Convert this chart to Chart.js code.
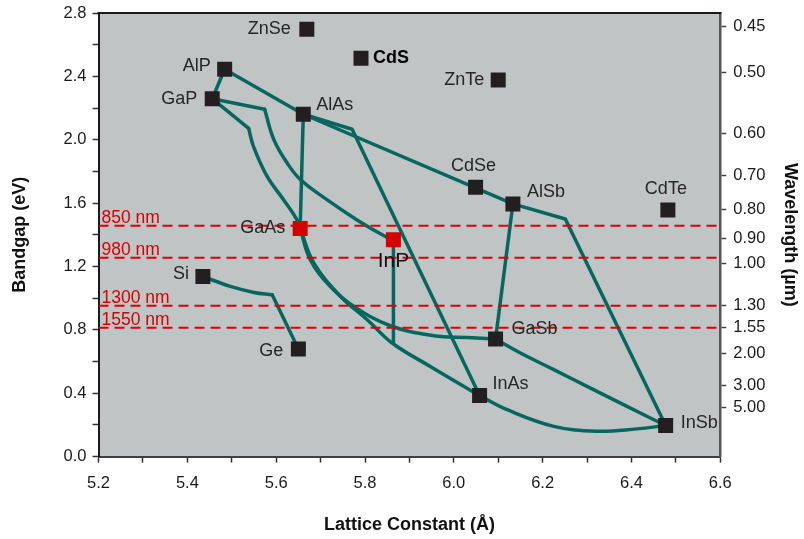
<!DOCTYPE html>
<html lang="en">
<head>
<meta charset="utf-8">
<title>Bandgap vs Lattice Constant</title>
<script src="https://cdn.jsdelivr.net/npm/chart.js@4.4.1/dist/chart.umd.min.js"></script>
<style>
    html, body { margin: 0; padding: 0; background: #ffffff; }
    #wrap { width: 804px; height: 539px; }
</style>
</head>
<body>
<div id="wrap"><canvas id="bandgap-chart" width="804" height="539"></canvas></div>
<script>
// Composés binaires : constante de maille (Å) et bande interdite (eV)
const compounds = ['ZnSe', 'CdS', 'AlP', 'GaP', 'AlAs', 'GaAs', 'InP', 'Si', 'Ge', 'ZnTe', 'CdSe', 'AlSb', 'CdTe', 'GaSb', 'InAs', 'InSb'];
const latticeConstants = [5.669, 5.791, 5.484, 5.456, 5.661, 5.654, 5.864, 5.435, 5.650, 6.100, 6.049, 6.133, 6.482, 6.094, 6.058, 6.477];
const bandgaps = [2.697, 2.514, 2.445, 2.259, 2.161, 1.440, 1.368, 1.137, 0.679, 2.377, 1.700, 1.595, 1.557, 0.742, 0.385, 0.196];
const highlighted = ['GaAs', 'InP'];

// Longueurs d'onde de référence (lignes rouges)
const referenceLabels = ['850 nm', '980 nm', '1300 nm', '1550 nm'];
const referenceGaps = [1.457, 1.255, 0.952, 0.813];

// Axe de droite : longueur d'onde (µm) placée sur l'échelle en eV
const wavelengthLabels = ['0.45', '0.50', '0.60', '0.70', '0.80', '0.90', '1.00', '1.30', '1.55', '2.00', '3.00', '5.00'];
const wavelengthGaps = [2.717, 2.423, 2.040, 1.772, 1.557, 1.379, 1.221, 0.952, 0.818, 0.649, 0.448, 0.313];

// Segments droits des alliages ternaires
const lineAlPGaP = [[5.484, 2.445], [5.456, 2.259]];
const lineAlPAlAs = [[5.484, 2.445], [5.661, 2.161]];
const lineAlAsAlSb = [[5.661, 2.161], [6.133, 1.595]];
const lineAlSbInSb = [[6.133, 1.595], [6.251, 1.500], [6.477, 0.196]];
const lineAlAsInAs = [[5.661, 2.161], [5.771, 2.066], [6.058, 0.385]];
const lineAlAsGaAs = [[5.661, 2.161], [5.654, 1.440]];
const lineAlSbGaSb = [[6.133, 1.595], [6.094, 0.742]];
const lineGaPKinkA = [[5.456, 2.259], [5.538, 2.072]];
const lineGaPKinkB = [[5.456, 2.259], [5.574, 2.192]];
const lineInPGaInAs = [[5.864, 1.368], [5.864, 0.717]];
const lineSiGeKink = [[5.591, 1.021], [5.650, 0.679]];

// Courbes (avec courbure)
const curveGaPGaAs = [[5.538, 2.072], [5.549, 1.957], [5.580, 1.767], [5.617, 1.620], [5.647, 1.494], [5.654, 1.440]];
const curveGaPInP = [[5.574, 2.192], [5.595, 1.999], [5.625, 1.852], [5.655, 1.747], [5.715, 1.620], [5.782, 1.494], [5.846, 1.389], [5.864, 1.368]];
const curveGaAsGaSb = [[5.654, 1.440], [5.677, 1.242], [5.722, 1.074], [5.775, 0.948], [5.857, 0.826], [5.955, 0.763], [6.030, 0.752], [6.094, 0.742]];
const curveGaAsInAs = [[5.654, 1.440], [5.685, 1.221], [5.745, 1.011], [5.805, 0.864], [5.861, 0.717], [5.947, 0.569], [6.058, 0.385]];
const curveInAsInSb = [[6.058, 0.385], [6.120, 0.296], [6.225, 0.191], [6.322, 0.160], [6.412, 0.175], [6.477, 0.196]];
const curveGaSbInSb = [[6.094, 0.742], [6.150, 0.654], [6.225, 0.549], [6.300, 0.443], [6.390, 0.317], [6.477, 0.196]];
const curveSiGe = [[5.435, 1.137], [5.497, 1.074], [5.550, 1.036], [5.591, 1.021]];

const straightLines = [lineAlPGaP, lineAlPAlAs, lineAlAsAlSb, lineAlSbInSb, lineAlAsInAs, lineAlAsGaAs,
    lineAlSbGaSb, lineGaPKinkA, lineGaPKinkB, lineInPGaInAs, lineSiGeKink];
const smoothCurves = [curveGaPGaAs, curveGaPInP, curveGaAsGaSb, curveGaAsInAs, curveInAsInSb, curveGaSbInSb, curveSiGe];

// Placement des étiquettes : [dx, dy, alignement]
const labelPlacement = {
    ZnSe: [-16, 0, 'right'], CdS: [12, 0, 'left'], AlP: [-14, -3, 'right'], GaP: [-15, 0, 'right'],
    AlAs: [13, -9, 'left'], GaAs: [-15, 0, 'right'], InP: [0, 21, 'center'], Si: [-14, -2, 'right'],
    Ge: [-15, 2, 'right'], ZnTe: [-14, 0, 'right'], CdSe: [-2, -21, 'center'], AlSb: [14, -12, 'left'],
    CdTe: [-2, -21, 'center'], GaSb: [16, -10, 'left'], InAs: [13, -12, 'left'], InSb: [15, -3, 'left']
};

const TEAL = '#06675f';
const RED = '#d60000';
const FONT = '"Liberation Sans", Arial, Helvetica, sans-serif';

document.addEventListener('DOMContentLoaded', function() {
    initBandgapChart();
});

function toPoints(pairs) {
    return pairs.map(p => ({ x: p[0], y: p[1] }));
}

// Supprime la marge automatique au-dessus de l'axe (étiquette 2.8)
function trimTopPadding(axis) {
    axis.paddingTop = 0;
}

/**
 * Fond gris de la zone de tracé et bordure supérieure
 */
const plotBackground = {
    id: 'plotBackground',
    beforeDraw(chart) {
        const { ctx, chartArea } = chart;
        ctx.save();
        ctx.fillStyle = '#c1c4c4';
        ctx.fillRect(chartArea.left, chartArea.top, chartArea.right - chartArea.left, chartArea.bottom - chartArea.top);
        ctx.restore();
    },
    afterDraw(chart) {
        const { ctx, chartArea } = chart;
        ctx.save();
        ctx.strokeStyle = '#1a1a1a';
        ctx.lineWidth = 2;
        ctx.beginPath();
        ctx.moveTo(chartArea.left - 1, chartArea.top);
        ctx.lineTo(chartArea.right + 1, chartArea.top);
        ctx.stroke();
        ctx.restore();
    }
};

/**
 * Étiquettes des composés et des longueurs d'onde de référence
 */
const pointLabels = {
    id: 'pointLabels',
    afterDatasetsDraw(chart) {
        const { ctx, chartArea } = chart;
        const xs = chart.scales.x;
        const ys = chart.scales.y;
        ctx.save();
        ctx.textBaseline = 'middle';

        compounds.forEach((name, i) => {
            const place = labelPlacement[name];
            const px = xs.getPixelForValue(latticeConstants[i]);
            const py = ys.getPixelForValue(bandgaps[i]);
            if (name === 'CdS') {
                ctx.font = 'bold 18px ' + FONT;
                ctx.fillStyle = '#000000';
            } else if (name === 'InP') {
                ctx.font = '21px ' + FONT;
                ctx.fillStyle = '#111111';
            } else {
                ctx.font = '18px ' + FONT;
                ctx.fillStyle = '#262626';
            }
            ctx.textAlign = place[2];
            ctx.fillText(name, px + place[0], py + place[1]);
        });

        ctx.font = '17.5px ' + FONT;
        ctx.fillStyle = RED;
        ctx.textAlign = 'left';
        ctx.textBaseline = 'alphabetic';
        referenceLabels.forEach((label, i) => {
            const py = ys.getPixelForValue(referenceGaps[i]);
            ctx.fillText(label, chartArea.left + 3, py - 3);
        });
        ctx.restore();
    }
};

/**
 * Construit le graphique bande interdite / constante de maille
 */
function initBandgapChart() {
    const ctx = document.getElementById('bandgap-chart').getContext('2d');
    Chart.defaults.font.family = FONT;

    const datasets = [];

    // Composés (carrés)
    datasets.push({
        label: 'Composés',
        data: compounds.map((name, i) => ({ x: latticeConstants[i], y: bandgaps[i] })),
        pointStyle: 'rect',
        pointRadius: 10.6,
        pointHoverRadius: 10.6,
        backgroundColor: compounds.map(name => highlighted.includes(name) ? RED : '#231f20'),
        borderColor: compounds.map(name => highlighted.includes(name) ? RED : '#231f20'),
        borderWidth: 0,
        showLine: false,
        order: 0
    });

    // Lignes rouges pointillées
    referenceGaps.forEach((gap, i) => {
        datasets.push({
            label: referenceLabels[i],
            data: [{ x: 5.2, y: gap }, { x: 6.6, y: gap }],
            borderColor: '#e00000',
            borderWidth: 2,
            borderDash: [10, 6],
            pointRadius: 0,
            showLine: true,
            order: 1
        });
    });

    straightLines.forEach(line => {
        datasets.push({
            data: toPoints(line),
            borderColor: TEAL,
            borderWidth: 3.5,
            pointRadius: 0,
            showLine: true,
            tension: 0,
            borderJoinStyle: 'round',
            borderCapStyle: 'round',
            order: 2
        });
    });

    smoothCurves.forEach(curve => {
        datasets.push({
            data: toPoints(curve),
            borderColor: TEAL,
            borderWidth: 3.5,
            pointRadius: 0,
            showLine: true,
            tension: 0.4,
            borderCapStyle: 'round',
            order: 2
        });
    });

    const axisTitle = { size: 18, weight: 'bold' };
    const tickFont = { size: 16.5 };

    new Chart(ctx, {
        type: 'scatter',
        data: { datasets: datasets },
        options: {
            responsive: false,
            animation: false,
            layout: { padding: { top: 13, left: 5, right: 0, bottom: 0 } },
            plugins: {
                legend: { display: false },
                tooltip: { enabled: false }
            },
            scales: {
                x: {
                    type: 'linear',
                    position: 'bottom',
                    min: 5.2,
                    max: 6.6,
                    ticks: {
                        stepSize: 0.1,
                        autoSkip: false,
                        maxRotation: 0,
                        color: '#1a1a1a',
                        font: tickFont,
                        padding: 11,
                        callback: function(value) {
                            return Math.round(value * 10) % 2 === 0 ? value.toFixed(1) : '';
                        }
                    },
                    grid: { drawOnChartArea: false, tickLength: 6, color: '#333333', tickWidth: 1.5 },
                    border: { color: '#404040', width: 2 },
                    title: {
                        display: true,
                        text: 'Lattice Constant (Å)',
                        color: '#111111',
                        font: axisTitle,
                        padding: { top: 10, bottom: 3 }
                    }
                },
                y: {
                    type: 'linear',
                    position: 'left',
                    min: 0,
                    max: 2.8,
                    afterFit: trimTopPadding,
                    ticks: {
                        stepSize: 0.2,
                        autoSkip: false,
                        color: '#1a1a1a',
                        font: tickFont,
                        padding: 6,
                        callback: function(value) {
                            return Math.round(value * 10) % 4 === 0 ? value.toFixed(1) : '';
                        }
                    },
                    grid: { drawOnChartArea: false, tickLength: 6, color: '#333333', tickWidth: 1.5 },
                    border: { color: '#1a1a1a', width: 2 },
                    title: {
                        display: true,
                        text: 'Bandgap (eV)',
                        color: '#111111',
                        font: axisTitle,
                        padding: { top: 4, bottom: 27 }
                    }
                },
                y2: {
                    type: 'linear',
                    position: 'right',
                    min: 0,
                    max: 2.8,
                    afterFit: trimTopPadding,
                    afterBuildTicks: function(axis) {
                        axis.ticks = wavelengthGaps.map(v => ({ value: v }));
                    },
                    ticks: {
                        autoSkip: false,
                        color: '#1a1a1a',
                        font: tickFont,
                        padding: 7,
                        callback: function(value, index) {
                            return wavelengthLabels[index];
                        }
                    },
                    grid: { drawOnChartArea: false, tickLength: 6, color: '#444444', tickWidth: 1.5 },
                    border: { color: '#555555', width: 2.5 },
                    title: {
                        display: true,
                        text: 'Wavelength (µm)',
                        color: '#111111',
                        font: axisTitle,
                        padding: { top: 3, bottom: 7 }
                    }
                }
            }
        },
        plugins: [plotBackground, pointLabels]
    });
}
</script>
</body>
</html>
